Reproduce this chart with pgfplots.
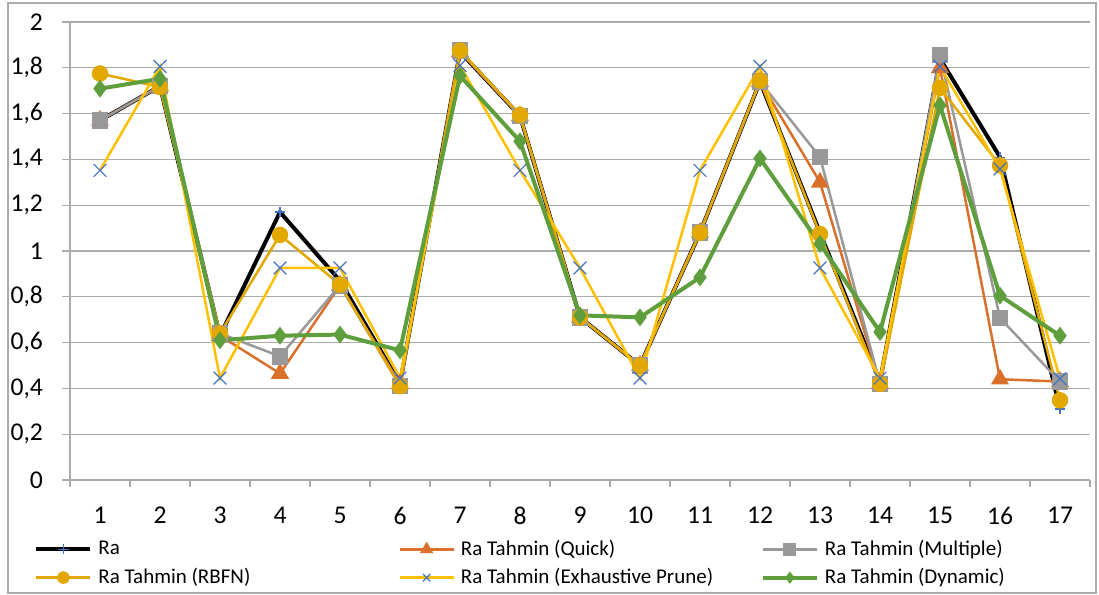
\documentclass[border=0pt]{standalone}
\usepackage{fontspec}
\setmainfont{Carlito}
\usepackage{pgfplots}
\pgfplotsset{compat=1.18}
\definecolor{cRa}{HTML}{000000}
\definecolor{cBlue}{HTML}{4472C4}
\definecolor{cQuick}{HTML}{D9702B}
\definecolor{cMult}{HTML}{999999}
\definecolor{cRBFN}{HTML}{E3A800}
\definecolor{cExh}{HTML}{FFC000}
\definecolor{cDyn}{HTML}{5F9E3C}
\definecolor{cGrid}{HTML}{ABABAB}
\begin{document}
\begin{tikzpicture}
\useasboundingbox (0pt,0pt) rectangle (549.5pt,297.5pt);
\draw[cGrid, line width=0.6pt] (4pt,1pt) rectangle (548pt,296pt);
\begin{axis}[
  at={(35pt,57.5pt)}, anchor=south west,
  scale only axis, width=510pt, height=229pt,
  xmin=0.5, xmax=17.5, ymin=0, ymax=2,
  axis lines=left,
  axis line style={-, draw=cGrid, line width=0.6pt},
  xtick={1,...,17},
  minor xtick={0.5,1.5,...,17.5},
  ytick={0,0.2,...,2},
  tick align=outside,
  major tick length=4pt,
  minor tick length=3.5pt,
  xtick style={draw=none},
  minor x tick style={draw=cGrid, line width=0.6pt},
  ytick style={draw=cGrid, line width=0.6pt},
  ymajorgrids,
  grid style={cGrid, line width=0.6pt},
  /pgf/number format/.cd, use comma, fixed, precision=1, assume math mode=true,
  /pgfplots/.cd,
  yticklabel style={font=\fontsize{12.8}{14}\selectfont, xshift=-6pt},
  xticklabel style={font=\fontsize{12.8}{14}\selectfont, yshift=-6pt},
  legend columns=3,
  legend cell align=left,
  legend style={at={(-0.0353,-0.126)}, anchor=north west, draw=none, fill=none,
    inner sep=0pt, row sep=3pt, column sep=0pt,
    font=\fontsize{10.5}{12}\selectfont,
    nodes={inner xsep=3pt, inner ysep=1pt}},
  legend image code/.code={\draw[mark repeat=2,mark phase=2, mark size=2.6pt] plot coordinates {(0pt,0pt)(13.5pt,0pt)(27pt,0pt)};},
]
\addplot[cRa, line width=2pt, mark=+, mark size=2.5pt, mark options={cBlue, line width=0.6pt}] coordinates {
(1,1.57)(2,1.72)(3,0.63)(4,1.17)(5,0.87)(6,0.42)(7,1.87)(8,1.59)(9,0.71)(10,0.50)(11,1.08)(12,1.74)(13,1.08)(14,0.43)(15,1.84)(16,1.41)(17,0.31)};
\addlegendentry{\makebox[147pt][l]{Ra}}
\addplot[cQuick, line width=1.25pt, mark=triangle*, mark size=4pt, mark options={solid, fill=cQuick}] coordinates {
(1,1.57)(2,1.72)(3,0.63)(4,0.465)(5,0.85)(6,0.42)(7,1.87)(8,1.59)(9,0.71)(10,0.50)(11,1.08)(12,1.74)(13,1.30)(14,0.42)(15,1.80)(16,0.44)(17,0.43)};
\addlegendentry{\makebox[147pt][l]{Ra Tahmin (Quick)}}
\addplot[cMult, line width=1.25pt, mark=square*, mark size=3.5pt, mark options={solid, fill=cMult}] coordinates {
(1,1.57)(2,1.72)(3,0.64)(4,0.54)(5,0.85)(6,0.41)(7,1.875)(8,1.59)(9,0.71)(10,0.50)(11,1.08)(12,1.74)(13,1.41)(14,0.42)(15,1.855)(16,0.707)(17,0.43)};
\addlegendentry{Ra Tahmin (Multiple)}
\addplot[cRBFN, line width=1.25pt, mark=*, mark size=3.5pt, mark options={solid, fill=cRBFN}] coordinates {
(1,1.775)(2,1.716)(3,0.64)(4,1.07)(5,0.853)(6,0.41)(7,1.875)(8,1.594)(9,0.71)(10,0.50)(11,1.08)(12,1.744)(13,1.074)(14,0.42)(15,1.712)(16,1.374)(17,0.348)};
\addlegendentry{\makebox[147pt][l]{Ra Tahmin (RBFN)}}
\addplot[cExh, line width=1.25pt, mark=x, mark size=4.5pt, mark options={cBlue, line width=0.6pt}] coordinates {
(1,1.352)(2,1.806)(3,0.445)(4,0.926)(5,0.926)(6,0.445)(7,1.81)(8,1.352)(9,0.926)(10,0.445)(11,1.352)(12,1.806)(13,0.926)(14,0.445)(15,1.806)(16,1.358)(17,0.442)};
\addlegendentry{\makebox[147pt][l]{Ra Tahmin (Exhaustive Prune)}}
\addplot[cDyn, line width=2pt, mark=diamond*, mark size=4pt, mark options={solid, fill=cDyn, line width=0.6pt}] coordinates {
(1,1.709)(2,1.752)(3,0.610)(4,0.630)(5,0.635)(6,0.566)(7,1.765)(8,1.479)(9,0.719)(10,0.710)(11,0.885)(12,1.404)(13,1.031)(14,0.646)(15,1.636)(16,0.805)(17,0.630)};
\addlegendentry{Ra Tahmin (Dynamic)}
\end{axis}
\end{tikzpicture}
\end{document}
